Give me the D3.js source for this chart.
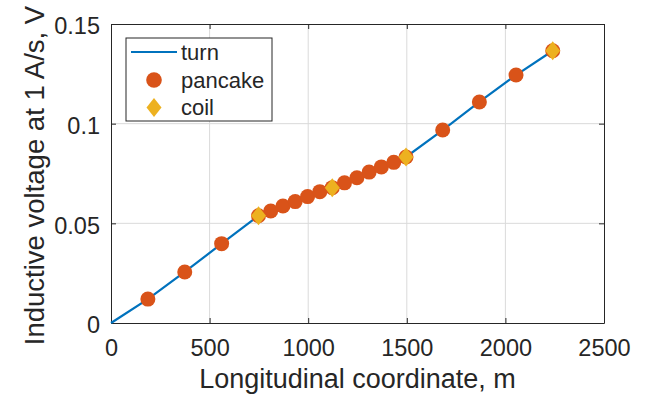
<!DOCTYPE html>
<html>
<head>
<meta charset="utf-8">
<script src="https://cdn.jsdelivr.net/npm/d3@7"></script>
<style>
  body { margin: 0; background: #fff; }
  text { font-family: "Liberation Sans", Arial, Helvetica, sans-serif; fill: #262626; }
</style>
</head>
<body>
<div id="chart"></div>
<script>
// data
const turnX = [0, 187, 374, 561, 748, 810, 872, 934, 997, 1059, 1122, 1184, 1247, 1309, 1371, 1434, 1496, 1682, 1868, 2054, 2240];
const turnV = [0, 0.0120, 0.0256, 0.0398, 0.0538, 0.0562, 0.0587, 0.0609, 0.0634, 0.0659, 0.0679, 0.0703, 0.0729, 0.0757, 0.0783, 0.0806, 0.0833, 0.0968, 0.1109, 0.1244, 0.1366];
const pancakeX = [187, 374, 561, 748, 810, 872, 934, 997, 1059, 1122, 1184, 1247, 1309, 1371, 1434, 1496, 1682, 1868, 2054, 2240];
const pancakeV = [0.0120, 0.0256, 0.0398, 0.0538, 0.0562, 0.0587, 0.0609, 0.0634, 0.0659, 0.0679, 0.0703, 0.0729, 0.0757, 0.0783, 0.0806, 0.0833, 0.0968, 0.1109, 0.1244, 0.1366];
const coilX = [748, 1122, 1496, 2240];
const coilV = [0.0538, 0.0679, 0.0833, 0.1366];
const xTicks = [0, 500, 1000, 1500, 2000, 2500];
const yTicks = [0, 0.05, 0.1, 0.15];
const legendLabels = ["turn", "pancake", "coil"];

const W = 648, H = 398;
const margin = {top: 24, right: 44, bottom: 75, left: 111};
const width = W - margin.left - margin.right;
const height = H - margin.top - margin.bottom;

const blue = "#0072BD", orange = "#D95319", yellow = "#EDB120";

const svg = d3.select("#chart").append("svg")
  .attr("width", W)
  .attr("height", H);

const g = svg.append("g")
  .attr("transform", "translate(" + margin.left + "," + margin.top + ")");

const x = d3.scaleLinear().domain([0, 2500]).range([0, width]);
const y = d3.scaleLinear().domain([0, 0.15]).range([height, 0]);

// grid
g.append("g").selectAll("line")
  .data(xTicks.slice(1, -1))
  .join("line")
  .attr("x1", d => x(d)).attr("x2", d => x(d))
  .attr("y1", 0).attr("y2", height)
  .attr("stroke", "#dadada").attr("stroke-width", 1);
g.append("g").selectAll("line")
  .data(yTicks.slice(1, -1))
  .join("line")
  .attr("y1", d => y(d)).attr("y2", d => y(d))
  .attr("x1", 0).attr("x2", width)
  .attr("stroke", "#dadada").attr("stroke-width", 1);

// axes (ticks pointing inward, box on)
const fmtY = d => d === 0 ? "0" : String(d);
const axB = g.append("g").attr("transform", "translate(0," + height + ")")
  .call(d3.axisBottom(x).tickValues(xTicks).tickSizeInner(-5).tickSizeOuter(0).tickPadding(16).tickFormat(d3.format("d")));
const axT = g.append("g")
  .call(d3.axisTop(x).tickValues(xTicks).tickSizeInner(-5).tickSizeOuter(0).tickFormat(""));
const axL = g.append("g")
  .call(d3.axisLeft(y).tickValues(yTicks).tickSizeInner(-5).tickSizeOuter(0).tickPadding(11).tickFormat(fmtY));
const axR = g.append("g").attr("transform", "translate(" + width + ",0)")
  .call(d3.axisRight(y).tickValues(yTicks).tickSizeInner(-5).tickSizeOuter(0).tickFormat(""));

[axB, axT, axL, axR].forEach(a => {
  a.select(".domain").attr("stroke", "#262626").attr("stroke-width", 1);
  a.selectAll(".tick line").attr("stroke", "#262626");
  a.selectAll("text").attr("font-size", 23.5).attr("fill", "#262626")
    .attr("font-family", "Liberation Sans, Arial, sans-serif");
});
axL.selectAll("text").attr("dy", "0.42em");

// turn line
const turnData = turnX.map((d, i) => ({x: d, v: turnV[i]}));
g.append("path")
  .datum(turnData)
  .attr("fill", "none")
  .attr("stroke", blue)
  .attr("stroke-width", 2.2)
  .attr("d", d3.line().x(d => x(d.x)).y(d => y(d.v)));

// pancake circles
g.append("g").selectAll("circle")
  .data(pancakeX.map((d, i) => ({x: d, v: pancakeV[i]})))
  .join("circle")
  .attr("cx", d => x(d.x))
  .attr("cy", d => y(d.v))
  .attr("r", 7.5)
  .attr("fill", orange);

// coil diamonds
const diamond = (cx, cy, w, h) => `M${cx},${cy - h / 2}L${cx + w / 2},${cy}L${cx},${cy + h / 2}L${cx - w / 2},${cy}Z`;
g.append("g").selectAll("path")
  .data(coilX.map((d, i) => ({x: d, v: coilV[i]})))
  .join("path")
  .attr("d", d => diamond(x(d.x), y(d.v), 15, 19))
  .attr("fill", yellow);

// axis labels
svg.append("text")
  .attr("x", margin.left + width / 2)
  .attr("y", 388)
  .attr("text-anchor", "middle")
  .attr("font-size", 27)
  .text("Longitudinal coordinate, m");

svg.append("text")
  .attr("transform", "translate(44," + (margin.top + height / 2 + 2) + ") rotate(-90)")
  .attr("text-anchor", "middle")
  .attr("font-size", 27.5)
  .text("Inductive voltage at 1 A/s, V");

// legend
const lg = svg.append("g").attr("transform", "translate(126,38)");
lg.append("rect")
  .attr("width", 146).attr("height", 83)
  .attr("fill", "#fff").attr("stroke", "#262626").attr("stroke-width", 1);
const rowY = [14, 42, 69.5];
lg.append("line")
  .attr("x1", 5).attr("x2", 51).attr("y1", rowY[0]).attr("y2", rowY[0])
  .attr("stroke", blue).attr("stroke-width", 2.2);
lg.append("circle").attr("cx", 28).attr("cy", rowY[1]).attr("r", 7.8).attr("fill", orange);
lg.append("path").attr("d", diamond(28, rowY[2], 15, 19)).attr("fill", yellow);
lg.selectAll("text.lbl")
  .data(legendLabels)
  .join("text")
  .attr("class", "lbl")
  .attr("x", 55)
  .attr("y", (d, i) => rowY[i] + 7.5)
  .attr("font-size", 22)
  .text(d => d);
</script>
</body>
</html>
